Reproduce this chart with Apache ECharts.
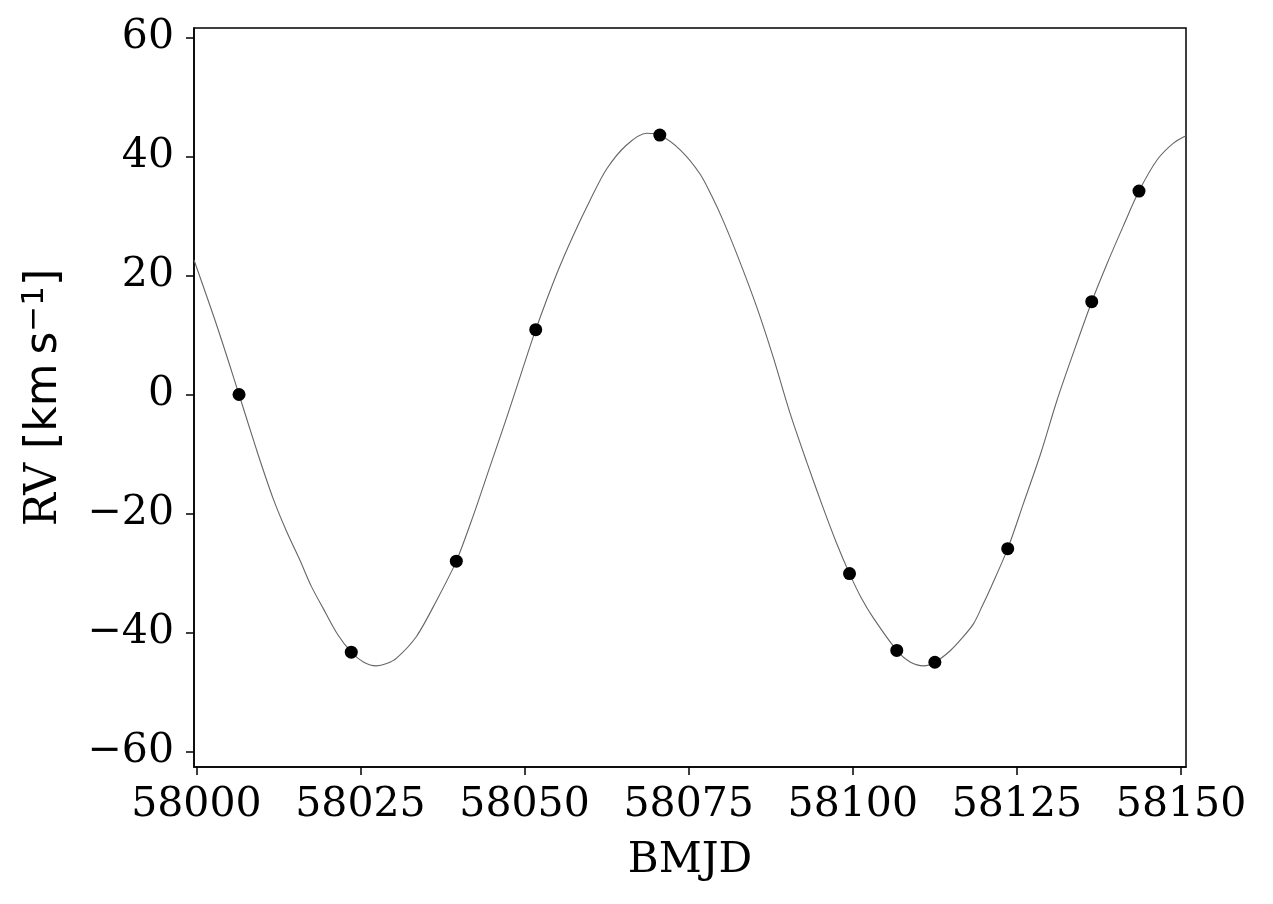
<!DOCTYPE html>
<html>
<head>
<meta charset="utf-8">
<script src="https://cdn.jsdelivr.net/npm/echarts@6/dist/echarts.min.js"></script>
<style>
  html, body { margin: 0; padding: 0; background: #fff; }
  #main { width: 1273px; height: 904px; }
</style>
</head>
<body>
<div id="main"></div>
<script>
// observed radial velocities (BMJD, km/s)
var obsDays = [58006.5, 58023.6, 58039.6, 58051.7, 58070.6, 58099.5, 58106.7, 58112.5, 58123.6, 58136.4, 58143.6];
var obsRV = [0.0, -43.3, -28.0, 10.9, 43.6, -30.1, -43.0, -45.0, -25.9, 15.6, 34.2];

// orbit model curve
var modelDays = [57999.64, 58003.2, 58006.5, 58009.2, 58011.7, 58013.7, 58015.8, 58017.5, 58019.3, 58021.5, 58023.6, 58025.5,
  58027.4, 58029.0, 58030.5, 58033.5, 58036.6, 58039.6, 58042.2, 58044.7, 58047.3, 58049.5,
  58051.7, 58054.9, 58057.4, 58060.0, 58062.5, 58065.5, 58068.6, 58070.6, 58073.7, 58076.7,
  58078.5, 58080.3, 58082.8, 58085.4, 58087.9, 58090.4, 58093.0, 58095.5, 58097.5, 58099.5, 58101.3, 58103.1, 58106.7,
  58108.8, 58110.8, 58112.5, 58114.8, 58116.6, 58118.4, 58119.7, 58121.0, 58123.6, 58126.0, 58128.6, 58131.1,
  58133.6, 58136.4, 58138.7, 58141.2, 58143.6, 58146.4, 58148.9, 58150.76];
var modelRV = [22.6, 11.3, 0.0, -9.4, -17.5, -22.9, -27.9, -32.2, -35.9, -40.3, -43.3, -45.0,
  -45.6, -45.2, -44.3, -40.7, -34.6, -28.0, -20.3, -12.2, -3.8, 3.6,
  10.9, 20.3, 26.7, 32.7, 37.9, 41.9, 43.9, 43.6, 41.1, 37.1,
  33.4, 29.1, 22.3, 14.6, 6.2, -3.0, -11.4, -19.1, -24.9, -30.1, -34.2, -37.5, -43.0,
  -45.0, -45.6, -45.0, -43.1, -41.0, -38.5, -35.6, -32.5, -25.9, -18.3, -10.0, -1.0,
  7.0, 15.6, 21.9, 28.3, 34.2, 39.5, 42.3, 43.5];

var xTicks = [58000, 58025, 58050, 58075, 58100, 58125, 58150];
var yTicks = [-60, -40, -20, 0, 20, 40, 60];

var serif = 'DejaVu Serif';
var sans = 'DejaVu Sans';

function minus(v) { return String(v).replace('-', '\u2212'); }

var myChart = echarts.init(document.getElementById('main'));

var option = {
    animation: false,
    backgroundColor: '#fff',
    grid: {
        left: 194, top: 28, right: 87, bottom: 137,
        show: true, borderColor: '#000', borderWidth: 1.5
    },
    xAxis: {
        type: 'value',
        min: 57999.64,
        max: 58150.76,
        name: 'BMJD',
        nameLocation: 'middle',
        nameGap: 73,
        nameTextStyle: { fontFamily: serif, fontSize: 42, color: '#000' },
        axisLine: { show: true, onZero: false, lineStyle: { color: '#000', width: 1.5 } },
        axisTick: { show: true, length: 8, lineStyle: { color: '#000', width: 1.5 }, customValues: xTicks },
        axisLabel: {
            customValues: xTicks,
            fontFamily: serif, fontSize: 41, color: '#000', margin: 18,
            formatter: function (v) { return minus(v); }
        },
        splitLine: { show: false }
    },
    yAxis: {
        type: 'value',
        min: -62.6,
        max: 61.6,
        name: '{a|RV }{b|[km\u2009s}{c|\u22121}{b|]}',
        nameLocation: 'middle',
        nameRotate: 90,
        nameGap: 124,
        nameTextStyle: {
            color: '#000',
            rich: {
                a: { fontFamily: serif, fontSize: 44, color: '#000' },
                b: { fontFamily: sans, fontSize: 44, color: '#000' },
                c: { fontFamily: sans, fontSize: 31, color: '#000', verticalAlign: 'top', padding: [0, 0, 20, 0] }
            }
        },
        axisLine: { show: true, onZero: false, lineStyle: { color: '#000', width: 1.5 } },
        axisTick: { show: true, length: 8, lineStyle: { color: '#000', width: 1.5 }, customValues: yTicks },
        axisLabel: {
            customValues: yTicks,
            fontFamily: serif, fontSize: 41, color: '#000', margin: 20,
            formatter: function (v) { return minus(v); }
        },
        splitLine: { show: false }
    },
    series: [
        {
            type: 'line',
            data: modelDays.map(function (d, i) { return [d, modelRV[i]]; }),
            smooth: 0.3,
            showSymbol: false,
            lineStyle: { color: '#666', width: 1.1 },
            z: 2
        },
        {
            type: 'scatter',
            data: obsDays.map(function (d, i) { return [d, obsRV[i]]; }),
            symbol: 'circle',
            symbolSize: 13,
            itemStyle: { color: '#000', opacity: 1 },
            z: 3
        }
    ]
};
myChart.setOption(option);
</script>
</body>
</html>
